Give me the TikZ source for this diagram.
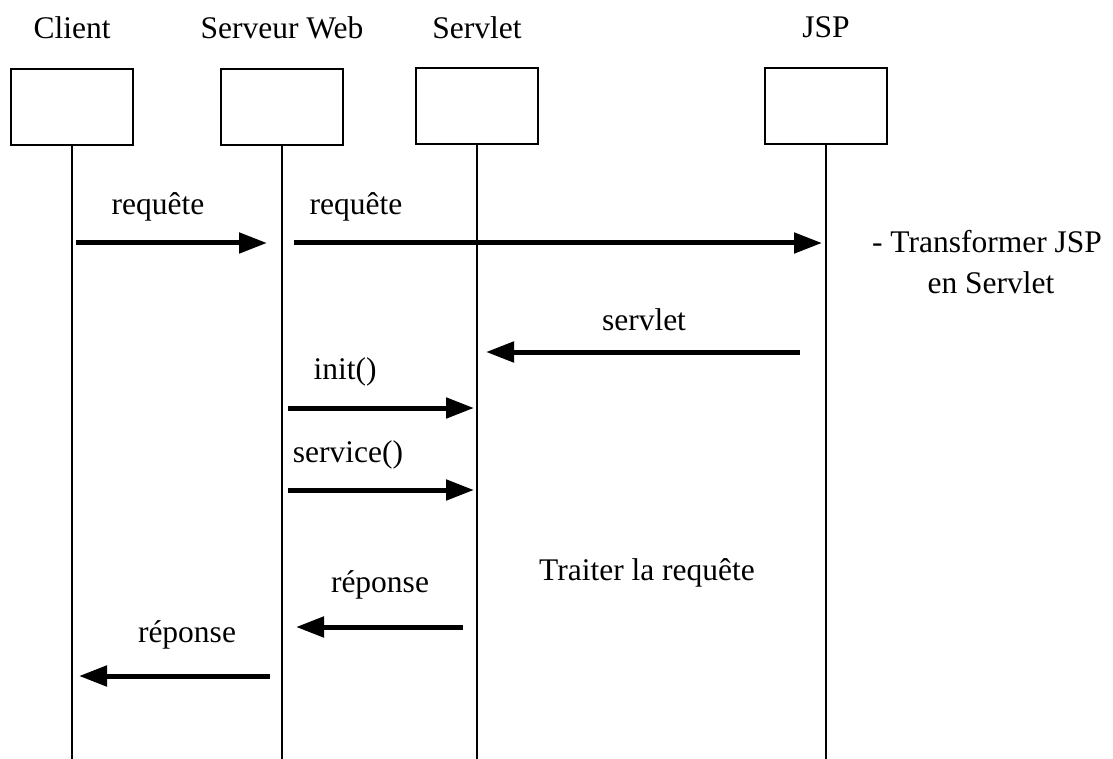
\documentclass[tikz,border=0pt]{standalone}
\usepackage{fontspec}
\setmainfont{Liberation Serif}
\usetikzlibrary{arrows.meta}
\begin{document}
\begin{tikzpicture}[x=1pt,y=-1pt,
  lbl/.style={font=\fontsize{31.5}{38}\selectfont, inner sep=0pt},
  actorbox/.style={draw, line width=2.2pt, minimum width=122pt, minimum height=76pt, inner sep=0pt},
  lifeline/.style={line width=1.8pt},
  msg/.style={line width=5pt, -{Triangle[length=28pt,width=20pt]}}]
\useasboundingbox (0,0) rectangle (1113,759);

% participants
\node[lbl] (hClient) at (72,28) {Client};
\node[lbl] (hWeb) at (282,28) {Serveur Web};
\node[lbl] (hServlet) at (477,28) {Servlet};
\node[lbl] (hJsp) at (826,27) {JSP};

\node[actorbox] (bClient) at (72,107) {};
\node[actorbox] (bWeb) at (282,107) {};
\node[actorbox] (bServlet) at (477,106) {};
\node[actorbox] (bJsp) at (826,106) {};

% lifelines
\coordinate (eClient) at (72,759);
\coordinate (eWeb) at (282,759);
\coordinate (eServlet) at (477,759);
\coordinate (eJsp) at (826,759);
\draw[lifeline] (bClient.south) -- (eClient);
\draw[lifeline] (bWeb.south) -- (eWeb);
\draw[lifeline] (bServlet.south) -- (eServlet);
\draw[lifeline] (bJsp.south) -- (eJsp);

% message end points
\coordinate (m1a) at (76,243);  \coordinate (m1b) at (267,243);
\coordinate (m2a) at (294,243); \coordinate (m2b) at (822,243);
\coordinate (m3a) at (800,352); \coordinate (m3b) at (486,352);
\coordinate (m4a) at (288,408); \coordinate (m4b) at (474,408);
\coordinate (m5a) at (288,490); \coordinate (m5b) at (474,490);
\coordinate (m6a) at (463,627); \coordinate (m6b) at (296,627);
\coordinate (m7a) at (270,676); \coordinate (m7b) at (79,676);

% messages
\draw[msg] (m1a) -- (m1b);
\draw[msg] (m2a) -- (m2b);
\draw[msg] (m3a) -- (m3b);
\draw[msg] (m4a) -- (m4b);
\draw[msg] (m5a) -- (m5b);
\draw[msg] (m6a) -- (m6b);
\draw[msg] (m7a) -- (m7b);

% labels
\node[lbl] (t1) at (158,207) {requête};
\node[lbl] (t2) at (356,207) {requête};
\node[lbl] (t3) at (644,320) {servlet};
\node[lbl] (t4) at (345,372) {init()};
\node[lbl] (t5) at (348,455) {service()};
\node[lbl] (t6) at (380,585) {réponse};
\node[lbl] (t7) at (187,635) {réponse};
\node[lbl] (n1) at (987,242) {- Transformer JSP};
\node[lbl] (n2) at (991,283) {en Servlet};
\node[lbl] (n3) at (647,573) {Traiter la requête};
\end{tikzpicture}
\end{document}
